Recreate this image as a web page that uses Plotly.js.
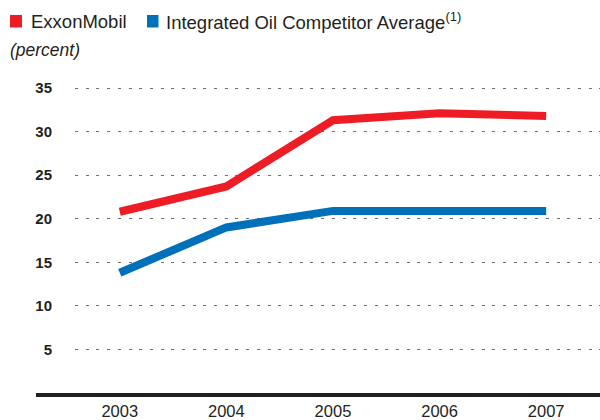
<!DOCTYPE html>
<html>
<head>
<meta charset="utf-8">
<script src="https://cdn.plot.ly/plotly-3.0.1.min.js"></script>
<style>html,body{margin:0;padding:0;background:#fff;}#chart{width:600px;height:420px;}</style>
</head>
<body>
<div id="chart"></div>
<script>
const years = [2003, 2004, 2005, 2006, 2007];
const yearLabels = ['2003', '2004', '2005', '2006', '2007'];
const exxonMobil = [20.8, 23.7, 31.3, 32.1, 31.8];
const competitorAvg = [13.8, 19.0, 20.9, 20.9, 20.9];
const yTicks = [5, 10, 15, 20, 25, 30, 35];
const seriesNames = ['ExxonMobil', 'Integrated Oil Competitor Average'];

const RED = '#ee1d25', BLUE = '#0070bb', INK = '#231f20';
const L = 75, T = 70, W = 600, H = 420, B = 27;
const pw = W - L, ph = H - T - B;
const px = x => (x - L) / pw;
const py = y => (H - B - y) / ph;

const traces = [
  {x: years, y: exxonMobil, name: seriesNames[0], mode: 'lines', line: {color: RED, width: 8}, hoverinfo: 'skip'},
  {x: years, y: competitorAvg, name: seriesNames[1], mode: 'lines', line: {color: BLUE, width: 8}, hoverinfo: 'skip'}
];

const layout = {
  width: W, height: H,
  margin: {l: L, r: 0, t: T, b: B, pad: 0},
  paper_bgcolor: '#fff', plot_bgcolor: '#fff',
  showlegend: false,
  font: {family: '"Liberation Sans", Arial, sans-serif', color: INK},
  xaxis: {
    range: [2002.58, 2007.505], tickvals: years, ticktext: yearLabels,
    showgrid: false, zeroline: false, showline: false,
    ticks: 'outside', ticklen: 3, tickcolor: 'rgba(0,0,0,0)',
    tickfont: {size: 16.5, color: INK}
  },
  yaxis: {
    range: [0, ph / 8.714], tickvals: yTicks,
    showgrid: true, gridcolor: '#6e6e6e', gridwidth: 1, griddash: '3px,7.7px',
    zeroline: false, showline: false,
    ticks: 'outside', ticklen: 19, tickcolor: 'rgba(0,0,0,0)',
    tickfont: {size: 15, color: INK, weight: 'bold'}
  },
  shapes: [
    {type: 'line', xref: 'paper', yref: 'paper', x0: px(36), x1: 1, y0: py(395), y1: py(395), line: {color: INK, width: 4}},
    {type: 'rect', xref: 'paper', yref: 'paper', x0: px(10), x1: px(22), y0: py(27.5), y1: py(15), fillcolor: RED, line: {width: 0}},
    {type: 'rect', xref: 'paper', yref: 'paper', x0: px(147), x1: px(158.5), y0: py(27.5), y1: py(15), fillcolor: BLUE, line: {width: 0}}
  ],
  annotations: [
    {xref: 'paper', yref: 'paper', x: px(29), y: py(21), xanchor: 'left', yanchor: 'middle', showarrow: false,
     text: seriesNames[0], font: {size: 18.5, color: INK}},
    {xref: 'paper', yref: 'paper', x: px(164), y: py(21), xanchor: 'left', yanchor: 'middle', showarrow: false,
     text: seriesNames[1] + '<sup>(1)</sup>', font: {size: 18.5, color: INK}},
    {xref: 'paper', yref: 'paper', x: px(8), y: py(50), xanchor: 'left', yanchor: 'middle', showarrow: false,
     text: '<i>(percent)</i>', font: {size: 17.5, color: INK}}
  ]
};

Plotly.newPlot('chart', traces, layout, {displayModeBar: false, staticPlot: true});
</script>
</body>
</html>
